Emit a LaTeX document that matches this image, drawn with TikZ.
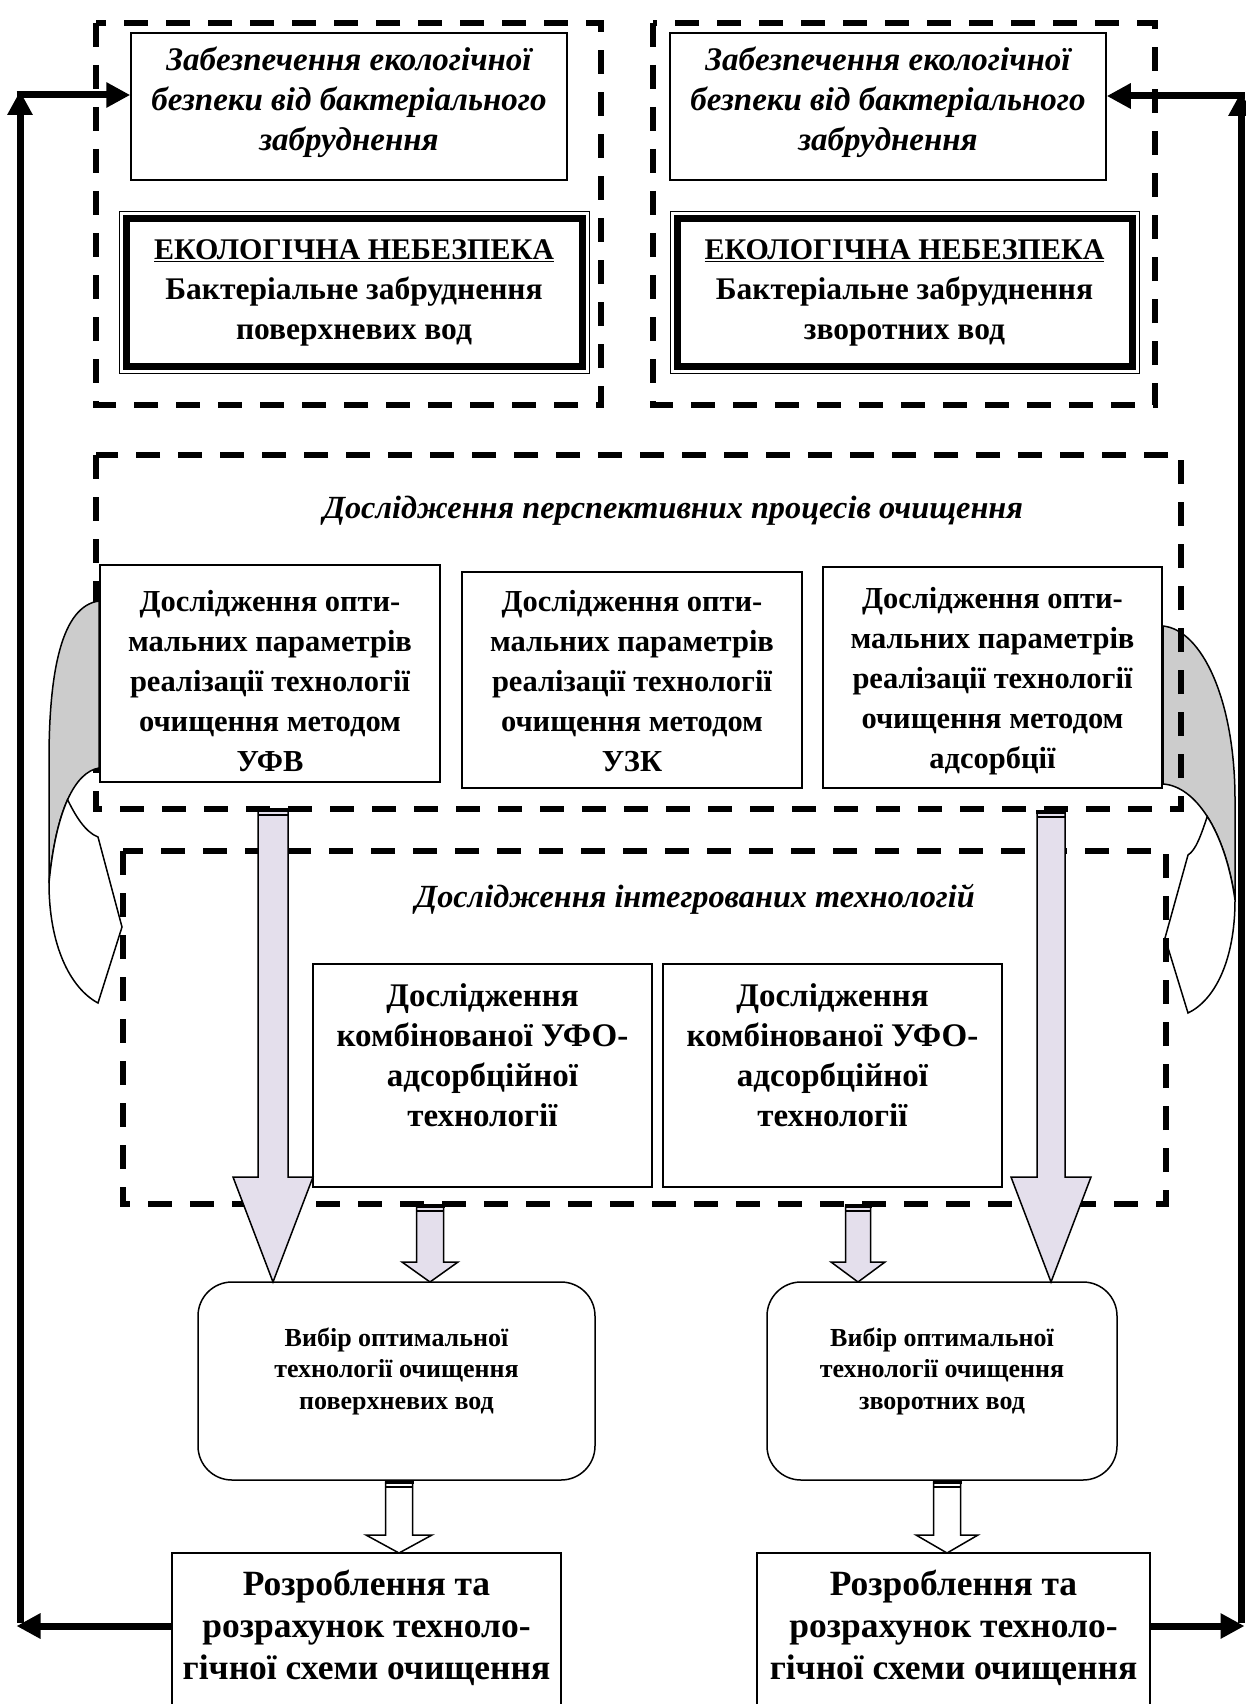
\documentclass[tikz,border=0pt]{standalone}
\usepackage{fontspec}
\setmainfont{Liberation Serif}
\usetikzlibrary{arrows.meta}
\definecolor{lav}{RGB}{228,223,236}
\definecolor{backgrey}{RGB}{204,204,204}
\newcommand\ftxt{\fontsize{30.5}{40}\selectfont\bfseries}
\newcommand\fdtxt{\fontsize{33}{40}\selectfont\bfseries}
\newcommand\fhaz{\fontsize{31.5}{40}\selectfont\bfseries}
\newcommand\fitl{\fontsize{33}{40}\selectfont\bfseries\itshape}
\newcommand\fttl{\fontsize{32.3}{40}\selectfont\bfseries\itshape}
\newcommand\fsml{\fontsize{26}{31.5}\selectfont\bfseries}
\newcommand\fbg{\fontsize{35.5}{42}\selectfont\bfseries}
\newcommand\blockarr[7]{%
  \filldraw[fill=#7, draw=black, line width=1.5, line join=miter]
    (#1-#5,#2) -- (#1-#5,#3) -- (#1-#6,#3) -- (#1,#4) -- (#1+#6,#3) -- (#1+#5,#3) -- (#1+#5,#2) -- cycle;
  \draw[line width=3.5] (#1-#5-1,#2) -- (#1+#5+1,#2);
  \draw[line width=1.8] (#1-#5,#2+5) -- (#1+#5,#2+5);
}
\begin{document}
\begin{tikzpicture}[x=1pt,y=-1pt,
  dashbox/.style={line width=5.5, dash pattern=on 24 off 18},
  plainbox/.style={draw, line width=1.5, fill=white, inner sep=0, align=center},
  txt/.style={inner sep=0, align=center},
  fb/.style={line width=7, -{Triangle[length=24,width=24]}},
  sidegrey/.style={fill=backgrey, draw=black, line width=1.5},
  sidewhite/.style={fill=white, draw=black, line width=1.5, line join=miter}
]
\useasboundingbox (0,0) rectangle (1246,1704);
\clip (0,0) rectangle (1246,1704);
\fill[white] (0,0) rectangle (1246,1704);

% ---------- right curved side arrow (lies under the dashed frames) ----------
\draw[sidegrey] (1163,626) .. controls (1202,630) and (1235,700) .. (1235,800) -- (1235,900)
  .. controls (1230,865) and (1220,836.5) .. (1207.25,816.5)
  .. controls (1194.5,796.5) and (1179,785) .. (1163,784) -- cycle;
\draw[sidewhite] (1207.25,816.5) .. controls (1201,835) and (1196,850) .. (1188,855) -- (1165,938) -- (1188,1013)
  .. controls (1215,1000) and (1235,960) .. (1235,900)
  .. controls (1230,865) and (1220,836.5) .. (1207.25,816.5) -- cycle;

% ---------- dashed group frames ----------
\draw[dashbox] (96,23) rectangle (601,405);
\draw[dashbox] (653,23) rectangle (1155,405);
\draw[dashbox] (96,455) rectangle (1181,809);
\draw[dashbox] (123,851) rectangle (1166,1204);

% ---------- top blocks ----------
\node[plainbox, minimum width=436, minimum height=147] (A1) at (349,106.5) {};
\node[txt, font=\fitl] (A1t) at (349,102)
  {Забезпечення екологічної\\безпеки від бактеріального\\забруднення};
\node[plainbox, minimum width=436, minimum height=147] (B1) at (888,106.5) {};
\node[txt, font=\fitl] (B1t) at (888,102)
  {Забезпечення екологічної\\безпеки від бактеріального\\забруднення};

\node[plainbox, line width=1, minimum width=470, minimum height=162] (A2) at (354,292.5) {};
\draw[line width=7] ([shift={(7.5,7.5)}]A2.north west) rectangle ([shift={(-7.5,-7.5)}]A2.south east);
\node[txt, font=\fhaz] (A2t) at (A2.center)
  {{\fontsize{30}{40}\selectfont\underline{ЕКОЛОГІЧНА НЕБЕЗПЕКА}}\\Бактеріальне забруднення\\поверхневих вод};

\node[plainbox, line width=1, minimum width=469, minimum height=162] (B2) at (904.5,292.5) {};
\draw[line width=7] ([shift={(7.5,7.5)}]B2.north west) rectangle ([shift={(-7.5,-7.5)}]B2.south east);
\node[txt, font=\fhaz] (B2t) at (B2.center)
  {{\fontsize{30}{40}\selectfont\underline{ЕКОЛОГІЧНА НЕБЕЗПЕКА}}\\Бактеріальне забруднення\\зворотних вод};

% ---------- prospective processes ----------
\node[txt, font=\fttl] (Ct) at (673,511) {Дослідження перспективних процесів очищення};
\node[plainbox, minimum width=340, minimum height=217] (C1) at (270,673.5) {};
\node[txt, font=\ftxt] (C1t) at (270,681)
  {Дослідження опти-\\мальних параметрів\\реалізації технології\\очищення методом\\УФВ};
\node[plainbox, minimum width=340, minimum height=216] (C2) at (632,680) {};
\node[txt, font=\ftxt] (C2t) at (632,681)
  {Дослідження опти-\\мальних параметрів\\реалізації технології\\очищення методом\\УЗК};
\node[plainbox, minimum width=339, minimum height=221] (C3) at (992.5,677.5) {};
\node[txt, font=\ftxt] (C3t) at (992.5,681)
  {Дослідження опти-\\мальних параметрів\\реалізації технології\\очищення методом\\адсорбції};

% ---------- integrated technologies ----------
\node[txt, font=\fttl] (Dt) at (695,899) {Дослідження інтегрованих технологій};
\node[plainbox, minimum width=339, minimum height=223] (D1) at (482.5,1075.5) {};
\node[txt, font=\fdtxt] (D1t) at (482.5,1055)
  {Дослідження\\комбінованої УФО-\\адсорбційної\\технології};
\node[plainbox, minimum width=339, minimum height=223] (D2) at (832.5,1075.5) {};
\node[txt, font=\fdtxt] (D2t) at (832.5,1055)
  {Дослідження\\комбінованої УФО-\\адсорбційної\\технології};

% ---------- choice blocks ----------
\node[plainbox, rounded corners=34, minimum width=397, minimum height=198] (E1) at (396.5,1381) {};
\node[txt, font=\fsml] (E1t) at (396.5,1371)
  {Вибір оптимальної\\технології очищення\\поверхневих вод};
\node[plainbox, rounded corners=34, minimum width=350, minimum height=198] (E2) at (942,1381) {};
\node[txt, font=\fsml] (E2t) at (942,1371)
  {Вибір оптимальної\\технології очищення\\зворотних вод};

% ---------- design blocks ----------
\node[plainbox, minimum width=389, minimum height=200] (F1) at (366.5,1653) {};
\node[txt, font=\fbg] (F1t) at (366.5,1628)
  {Розроблення та\\розрахунок техноло-\\гічної схеми очищення};
\node[plainbox, minimum width=393, minimum height=200] (F2) at (953.5,1653) {};
\node[txt, font=\fbg] (F2t) at (953.5,1628)
  {Розроблення та\\розрахунок техноло-\\гічної схеми очищення};

% ---------- block arrows ----------
\blockarr{273}{810}{1177}{1282}{15}{40}{lav}
\blockarr{1051}{812}{1177}{1282}{14}{40}{lav}
\blockarr{430}{1206}{1262}{1282}{13.5}{28}{lav}
\blockarr{858}{1206}{1262}{1282}{12.5}{27}{lav}
\blockarr{399}{1482}{1535}{1553}{13.5}{33}{white}
\blockarr{947}{1482}{1535}{1553}{13.5}{31}{white}

% ---------- left curved side arrow ----------
\draw[sidegrey] (99,601) .. controls (62,606) and (49,670) .. (49,760) -- (49,883)
  .. controls (52.5,846.5) and (59,818.75) .. (67.6,799.6)
  .. controls (76.25,780.5) and (87,770) .. (99,768) -- cycle;
\draw[sidewhite] (67.6,799.6) .. controls (75,815) and (85,832) .. (98,837) -- (122,927) -- (98,1003)
  .. controls (70,988) and (49,945) .. (49,883)
  .. controls (52.5,846.5) and (59,818.75) .. (67.6,799.6) -- cycle;

% ---------- feedback loops ----------
\coordinate (LT) at (20,95);
\coordinate (LB) at (20,1626);
\coordinate (RT) at (1241,96);
\coordinate (RB) at (1241,1626);
\draw[fb] (F1.west |- LB) -- ([xshift=-3.5]LB);
\draw[fb] ([yshift=3.5]LB) -- ([yshift=4]LT);
\draw[fb] ([xshift=-3.5]LT) -- (A1.west |- LT);
\draw[fb] (F2.east |- RB) -- ([xshift=3.5]RB);
\draw[fb] ([yshift=3.5]RB) -- ([yshift=4]RT);
\draw[fb] ([xshift=3.5]RT) -- (B1.east |- RT);
\end{tikzpicture}
\end{document}
